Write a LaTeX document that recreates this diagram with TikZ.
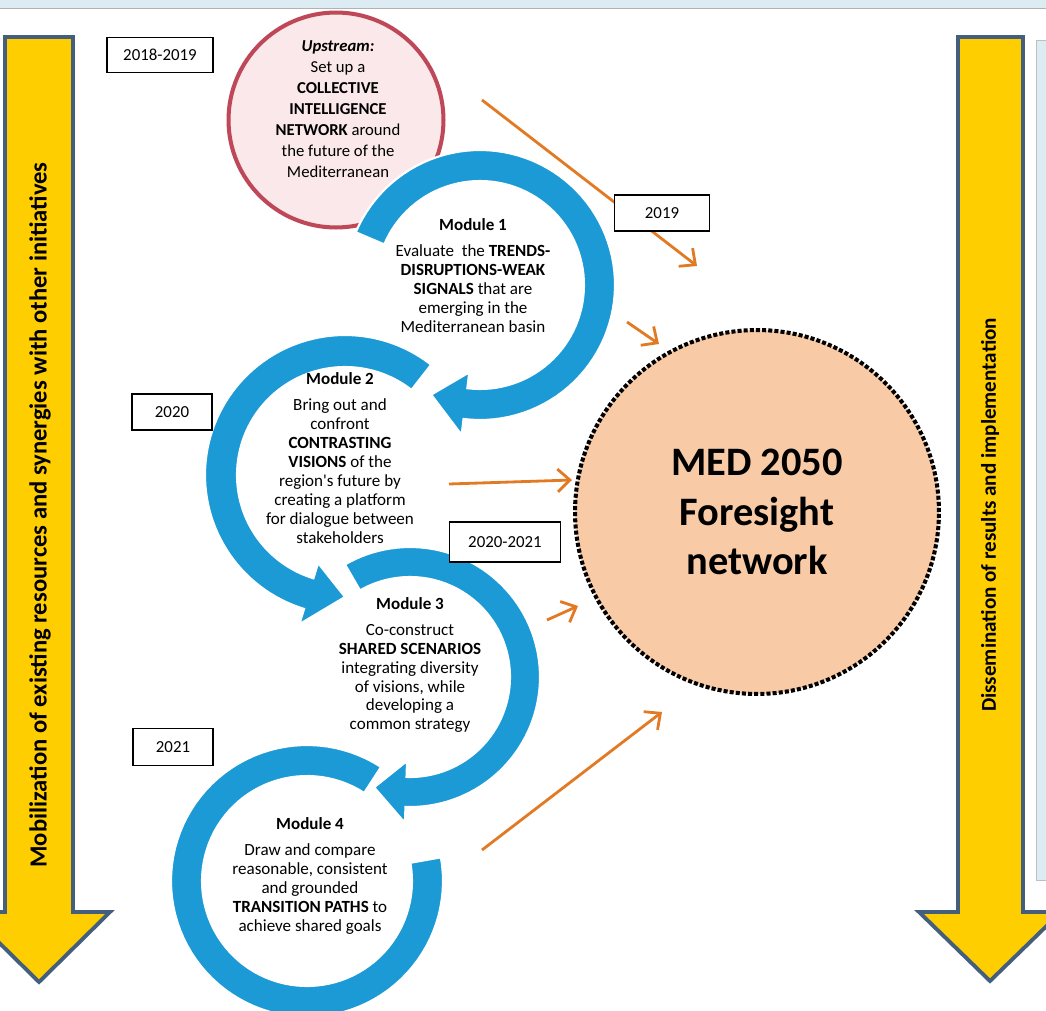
\documentclass[tikz,border=0pt]{standalone}
\usepackage{fontspec}
\setmainfont{Carlito}
\usetikzlibrary{arrows.meta}
\definecolor{modblue}{RGB}{28,154,214}
\definecolor{feedorange}{RGB}{226,122,36}
\definecolor{bandyellow}{RGB}{255,206,0}
\definecolor{bandedge}{RGB}{68,94,125}
\definecolor{upred}{RGB}{190,72,88}
\definecolor{uppink}{RGB}{250,232,234}
\definecolor{medpeach}{RGB}{248,203,166}
\definecolor{panelblue}{RGB}{221,236,243}
\begin{document}
\begin{tikzpicture}[x=0.02cm,y=-0.02cm,
  ring/.style={fill=modblue,draw=white,line width=1.2pt},
  feed/.style={draw=feedorange,line width=1.6pt,-{Straight Barb[length=7pt,width=13pt]}},
  datebox/.style={draw,line width=0.9pt,fill=white,inner sep=0pt,font=\fontsize{9.6}{11}\selectfont},
  modtext/.style={align=center,font=\fontsize{9.7}{10.8}\selectfont},
  band/.style={fill=bandyellow,draw=bandedge,line width=2.2pt,line join=miter},
  bandtext/.style={rotate=90,font=\bfseries\fontsize{12}{14}\selectfont}]
\useasboundingbox (0,0) rectangle (1046,1011);
% top strip and side panel
\fill[panelblue] (0,0) rectangle (1046,8);
\draw[gray!60] (0,8)--(1046,8);
\draw[fill=panelblue,draw=gray!50] (1036,40) rectangle (1060,880);
% yellow side arrows
\draw[band] (5,37)--(73,37)--(73,912)--(110,912)--(39,982)--(-32,912)--(5,912)--cycle;
\node[bandtext,font=\bfseries\fontsize{14}{16}\selectfont] (mobil) at (40,515) {Mobilization of existing resources and synergies with other initiatives};
\draw[band] (958,37)--(1023,37)--(1023,912)--(1061,912)--(990,981)--(919,912)--(958,912)--cycle;
\node[bandtext] (dissem) at (990,515) {Dissemination of results and implementation};
% upstream
\node[circle,draw=upred,fill=uppink,line width=2.3pt,minimum size=4.3cm] (upstream) at (336,120) {};
\node[modtext,font=\fontsize{9.5}{11.9}\selectfont] (uptext) at (338,109) {\textbf{\textit{Upstream:}}\\ Set up a\\ \textbf{COLLECTIVE}\\ \textbf{INTELLIGENCE}\\ \textbf{NETWORK} around\\ the future of the\\ Mediterranean};
% module rings
\begin{scope}[shift={(480,285)}]
\fill[ring] plot[domain=-157:97,samples=80] (\x:135) -- (97:151) -- (114:120) -- (97:88) -- plot[domain=97:-157,samples=80] (\x:104) -- cycle;
\end{scope}
\begin{scope}[shift={(345,475)}]
\fill[ring] plot[domain=-52:-253,samples=80] (\x:140) -- (-253:156) -- (-270:122) -- (-253:92) -- plot[domain=-253:-52,samples=80] (\x:108) -- cycle;
\end{scope}
\begin{scope}[shift={(410,677)}]
\fill[ring] plot[domain=-120:92,samples=80] (\x:130) -- (92:146) -- (108:116) -- (92:84) -- plot[domain=92:-120,samples=80] (\x:100) -- cycle;
\end{scope}
\begin{scope}[shift={(307,881)}]
\fill[ring] plot[domain=-57:-370,samples=90] (\x:136) -- plot[domain=-370:-57,samples=90] (\x:105) -- cycle;
\end{scope}
\node[modtext] (mod1) at (473,276) {\textbf{Module 1}\\[4pt] Evaluate\ \ the \textbf{TRENDS-}\\ \textbf{DISRUPTIONS-WEAK}\\ \textbf{SIGNALS} that are\\ emerging in the\\ Mediterranean basin};
\node[modtext] (mod2) at (340,458) {\textbf{Module 2}\\[4pt] Bring out and\\ confront\\ \textbf{CONTRASTING}\\ \textbf{VISIONS} of the\\ region\textquotesingle s future by\\ creating a platform\\ for dialogue between\\ stakeholders};
\node[modtext] (mod3) at (410,665) {\textbf{Module 3}\\[4pt] Co-construct\\ \textbf{SHARED SCENARIOS}\\ integrating diversity\\ of visions, while\\ developing a\\ common strategy};
\node[modtext] (mod4) at (310,876) {\textbf{Module 4}\\[4pt] Draw and compare\\ reasonable, consistent\\ and grounded\\ \textbf{TRANSITION PATHS} to\\ achieve shared goals};
% MED 2050
\node[circle,fill=medpeach,draw=black,line width=2.3pt,dash pattern=on 2.3pt off 1.2pt,minimum size=7.28cm,align=center,font=\bfseries\fontsize{23}{28}\selectfont] (med) at (757,512) {MED 2050\\ Foresight\\ network};
% orange feeds
\coordinate (f1s) at (482,100); \coordinate (f1e) at (697,266);
\coordinate (f2s) at (627,322); \coordinate (f2e) at (659,344);
\coordinate (f3s) at (449,484); \coordinate (f3e) at (572,480);
\coordinate (f4s) at (547,620); \coordinate (f4e) at (578,606);
\coordinate (f5s) at (482,850); \coordinate (f5e) at (662,712);
\draw[feed] (f1s)--(f1e);
\draw[feed] (f2s)--(f2e);
\draw[feed] (f3s)--(f3e);
\draw[feed] (f4s)--(f4e);
\draw[feed] (f5s)--(f5e);
% dates
\node[datebox,minimum width=2.12cm,minimum height=0.70cm] (d1819) at (160,55) {2018-2019};
\node[datebox,minimum width=1.90cm,minimum height=0.72cm] (d19) at (662,213) {2019};
\node[datebox,minimum width=1.60cm,minimum height=0.72cm] (d20) at (172,412) {2020};
\node[datebox,minimum width=2.22cm,minimum height=0.80cm] (d2021) at (505,542) {2020-2021};
\node[datebox,minimum width=1.60cm,minimum height=0.74cm] (d21) at (173,747) {2021};
\end{tikzpicture}
\end{document}
